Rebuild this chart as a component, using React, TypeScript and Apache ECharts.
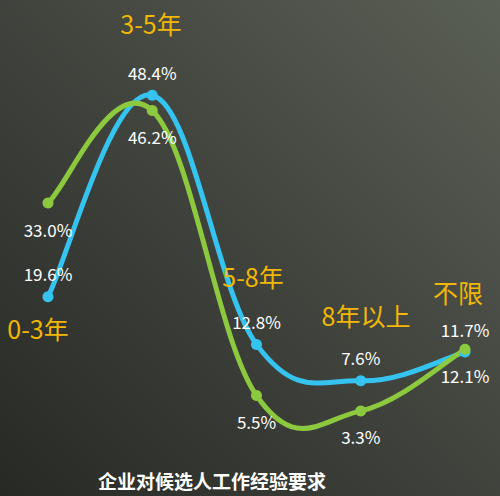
import React, { useEffect, useRef } from "react";
import * as echarts from "echarts";

const categories = ["0-3年", "3-5年", "5-8年", "8年以上", "不限"];
const blueValues = [19.6, 48.4, 12.8, 7.6, 11.7];
const greenValues = [33.0, 46.2, 5.5, 3.3, 12.1];
const chartTitle = "企业对候选人工作经验要求";

const BLUE = "#35c3f0";
const GREEN = "#8cc93f";
const GOLD = "#f2b705";
const FONT = "'Noto Sans CJK SC', 'Noto Sans', sans-serif";
const TENSION = 1.15;

// label placement for category names (layout only)
const catPlacement = [
  { x: 38, y: 328 },
  { x: 151, y: 23 },
  { x: 253, y: 276 },
  { x: 366, y: 315 },
  { x: 458, y: 292 },
];

function splineRenderer(values: number[], color: string) {
  return (params: any, api: any) => {
    if (params.dataIndex !== 0) return { type: "group", children: [] };
    const pts = values.map((v, i) => api.coord([i, v]));
    const n = pts.length;
    const k = TENSION / 6;
    let d = `M${pts[0][0]},${pts[0][1]}`;
    for (let i = 0; i < n - 1; i++) {
      const p0 = pts[Math.max(0, i - 1)];
      const p1 = pts[i];
      const p2 = pts[i + 1];
      const p3 = pts[Math.min(n - 1, i + 2)];
      const c1x = p1[0] + (p2[0] - p0[0]) * k;
      const c1y = p1[1] + (p2[1] - p0[1]) * k;
      const c2x = p2[0] - (p3[0] - p1[0]) * k;
      const c2y = p2[1] - (p3[1] - p1[1]) * k;
      d += ` C${c1x},${c1y} ${c2x},${c2y} ${p2[0]},${p2[1]}`;
    }
    return {
      type: "path",
      shape: { pathData: d },
      style: { stroke: color, lineWidth: 5, fill: "none", lineCap: "round", lineJoin: "round" },
    };
  };
}

export default function App() {
  const ref = useRef<HTMLDivElement>(null);
  useEffect(() => {
    if (!ref.current) return;
    const chart = echarts.init(ref.current, undefined, { renderer: "svg" });
    const catTexts = categories.map((c, i) => ({
      type: "text",
      x: catPlacement[i].x,
      y: catPlacement[i].y,
      style: {
        text: c,
        fill: GOLD,
        font: `25px ${FONT}`,
        textAlign: "center",
        textVerticalAlign: "middle",
      },
      z: 10,
    }));
    const pct = (p: any) => p.value.toFixed(1) + "%";
    chart.setOption({
      animation: false,
      backgroundColor: {
        type: "linear",
        x: 1,
        y: 0,
        x2: 0,
        y2: 1,
        colorStops: [
          { offset: 0, color: "#5a5f55" },
          { offset: 0.45, color: "#43463f" },
          { offset: 1, color: "#272925" },
        ],
      },
      grid: { left: 48, right: 35, top: 14, bottom: 62 },
      xAxis: {
        type: "category",
        data: categories,
        boundaryGap: false,
        show: false,
      },
      yAxis: { type: "value", min: 0, max: 60, show: false },
      title: {
        text: chartTitle,
        left: 207,
        top: 466,
        textAlign: "center",
        textStyle: {
          color: "#ffffff",
          fontSize: 19,
          fontWeight: "bold",
          fontFamily: FONT,
        },
      },
      graphic: catTexts,
      series: [
        {
          type: "custom",
          data: blueValues.map((v, i) => [i, v]),
          encode: { x: 0, y: 1 },
          renderItem: splineRenderer(blueValues, BLUE),
          silent: true,
          z: 1,
        },
        {
          type: "custom",
          data: greenValues.map((v, i) => [i, v]),
          encode: { x: 0, y: 1 },
          renderItem: splineRenderer(greenValues, GREEN),
          silent: true,
          z: 2,
        },
        {
          type: "line",
          data: blueValues,
          symbol: "circle",
          symbolSize: 11,
          lineStyle: { color: BLUE, width: 0, opacity: 0 },
          itemStyle: { color: BLUE },
          label: {
            show: true,
            position: "top",
            distance: 9,
            formatter: pct,
            color: "#ffffff",
            fontSize: 17,
            fontFamily: FONT,
          },
          z: 3,
        },
        {
          type: "line",
          data: greenValues,
          symbol: "circle",
          symbolSize: 11,
          lineStyle: { color: GREEN, width: 0, opacity: 0 },
          itemStyle: { color: GREEN },
          label: {
            show: true,
            position: "bottom",
            distance: 12,
            formatter: pct,
            color: "#ffffff",
            fontSize: 17,
            fontFamily: FONT,
          },
          z: 4,
        },
      ],
    });
    return () => chart.dispose();
  }, []);
  return (
    <div
      ref={ref}
      style={{ position: "fixed", left: 0, top: 0, width: 500, height: 496 }}
    />
  );
}
